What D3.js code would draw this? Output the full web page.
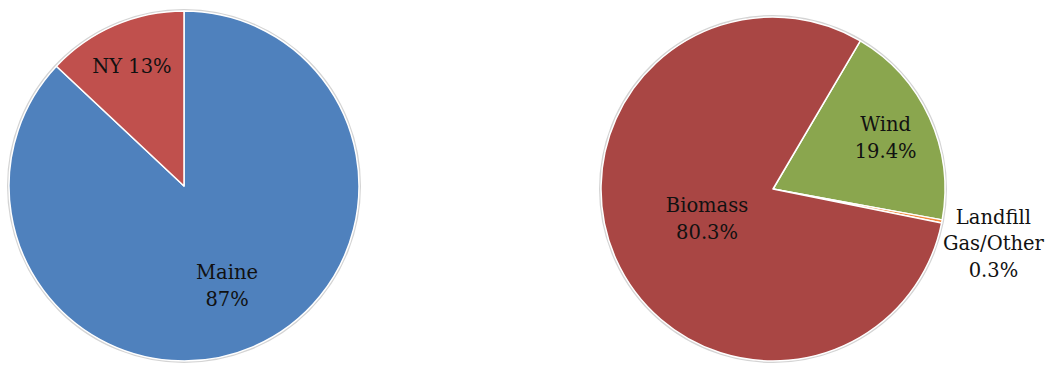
<!DOCTYPE html>
<html>
<head>
<meta charset="utf-8">
<script src="https://cdn.jsdelivr.net/npm/d3@7"></script>
<style>
  body { margin: 0; background: #fff; }
  text { font-family: "DejaVu Serif", serif; font-size: 19.5px; fill: #111; }
</style>
</head>
<body>
<div id="chart"></div>
<script>
// left pie: state share
var stateNames = ["Maine", "NY"];
var stateValues = [87, 13];
var stateLabels = ["Maine|87%", "NY 13%"];
var stateColors = ["#4F81BD", "#C0504D"];

// right pie: source share
var sourceNames = ["Wind", "Landfill Gas/Other", "Biomass"];
var sourceValues = [19.4, 0.3, 80.3];
var sourceLabels = ["Wind|19.4%", "Landfill|Gas/Other|0.3%", "Biomass|80.3%"];
var sourceColors = ["#8AA64E", "#F0883A", "#A94644"];

var width = 1051, height = 367;

var svg = d3.select("#chart")
  .append("svg")
  .attr("width", width)
  .attr("height", height);

function drawPie(cx, cy, r, names, values, labels, colors, start, labelPos) {
  var g = svg.append("g").attr("transform", "translate(" + cx + "," + cy + ")");

  var pie = d3.pie().sort(null)
    .startAngle(start)
    .endAngle(start + 2 * Math.PI);
  var arcs = pie(values);
  var arc = d3.arc().innerRadius(0).outerRadius(r);

  g.append("circle")
    .attr("r", r + 1)
    .attr("fill", "none")
    .attr("stroke", "#d4d4d4")
    .attr("stroke-width", 2);

  g.selectAll(".slice")
    .data(arcs)
    .enter()
    .append("path")
    .attr("class", "slice")
    .attr("d", arc)
    .attr("fill", (d, i) => colors[i])
    .attr("stroke", "#fff")
    .attr("stroke-width", 1.5)
    .attr("stroke-linejoin", "round");

  var lineH = 26.5;
  arcs.forEach((d, i) => {
    var a = (d.startAngle + d.endAngle) / 2;
    var lines = labels[i].split("|");
    var t = g.append("text").attr("text-anchor", "middle");
    var tspans = lines.map((s, j) =>
      t.append("tspan").attr("dy", j === 0 ? 0 : lineH).text(s));

    var x, y0;
    if (labelPos[i] > 1) {
      // outside label: box hangs from the rim point
      var px = (r + 1) * Math.sin(a), py = -(r + 1) * Math.cos(a);
      var w = d3.max(tspans, s => s.node().getComputedTextLength());
      x = px + w / 2;
      y0 = py + 2;
    } else {
      var lr = r * labelPos[i];
      x = lr * Math.sin(a);
      y0 = -lr * Math.cos(a) - (lines.length - 1) * lineH / 2 + 7;
    }
    t.attr("x", x).attr("y", y0);
    tspans.forEach(s => s.attr("x", x));
  });
}

drawPie(184, 186, 175, stateNames, stateValues, stateLabels, stateColors, 0, [0.62, 0.75]);
drawPie(773, 189, 172, sourceNames, sourceValues, sourceLabels, sourceColors,
  30.5 * Math.PI / 180, [0.72, 1.1, 0.42]);
</script>
</body>
</html>
